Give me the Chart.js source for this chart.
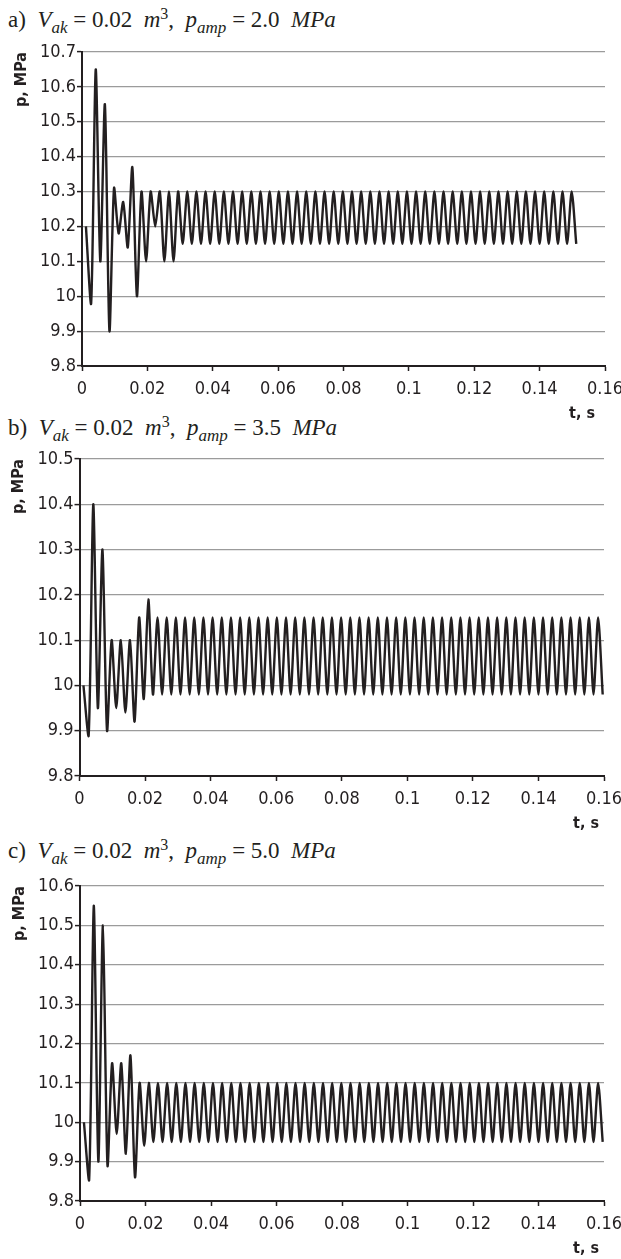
<!DOCTYPE html>
<html>
<head>
<meta charset="utf-8">
<script src="https://cdn.jsdelivr.net/npm/chart.js@4.4.1/dist/chart.umd.min.js"></script>
<style>
  html, body { margin:0; padding:0; background:#fff; width:621px; height:1259px; overflow:hidden; }
  .ttl { position:absolute; left:8px; font-family:'Liberation Serif','DejaVu Serif',serif; font-size:23px; line-height:23px; color:#231f20; white-space:nowrap; }
  .ttl i { font-style:italic; }
  .sb { position:relative; top:6px; font-size:17px; font-style:italic; }
  .sp { position:relative; top:-8px; font-size:16px; }
  canvas { position:absolute; left:0; }
</style>
</head>
<body>
<div class="ttl" style="top:8px">a)&nbsp; <i>V</i><span class="sb">ak</span> = 0.02&nbsp; <i>m</i><span class="sp">3</span>,&nbsp; <i>p</i><span class="sb">amp</span> = 2.0&nbsp; <i>MPa</i></div>
<div class="ttl" style="top:416px">b)&nbsp; <i>V</i><span class="sb">ak</span> = 0.02&nbsp; <i>m</i><span class="sp">3</span>,&nbsp; <i>p</i><span class="sb">amp</span> = 3.5&nbsp; <i>MPa</i></div>
<div class="ttl" style="top:839px">c)&nbsp; <i>V</i><span class="sb">ak</span> = 0.02&nbsp; <i>m</i><span class="sp">3</span>,&nbsp; <i>p</i><span class="sb">amp</span> = 5.0&nbsp; <i>MPa</i></div>
<canvas id="cA" width="660" height="390" style="top:37px"></canvas>
<canvas id="cB" width="660" height="393" style="top:444px"></canvas>
<canvas id="cC" width="660" height="391" style="top:871px"></canvas>
<script>
// time of each sample point (s)
const timeSteps = [
  0.0012,
  0.0028, 0.0042, 0.0056, 0.0070, 0.0084, 0.0098, 0.0112, 0.0126, 0.0140, 0.0154,
  0.0168, 0.0182, 0.0196, 0.0210, 0.0224, 0.0238, 0.0252, 0.0266, 0.0280, 0.0294,
  0.0308, 0.0322, 0.0336, 0.0350, 0.0364, 0.0378, 0.0392, 0.0406, 0.0420, 0.0434,
  0.0448, 0.0462, 0.0476, 0.0490, 0.0504, 0.0518, 0.0532, 0.0546, 0.0560, 0.0574,
  0.0588, 0.0602, 0.0616, 0.0630, 0.0644, 0.0658, 0.0672, 0.0686, 0.0700, 0.0714,
  0.0728, 0.0742, 0.0756, 0.0770, 0.0784, 0.0798, 0.0812, 0.0826, 0.0840, 0.0854,
  0.0868, 0.0882, 0.0896, 0.0910, 0.0924, 0.0938, 0.0952, 0.0966, 0.0980, 0.0994,
  0.1008, 0.1022, 0.1036, 0.1050, 0.1064, 0.1078, 0.1092, 0.1106, 0.1120, 0.1134,
  0.1148, 0.1162, 0.1176, 0.1190, 0.1204, 0.1218, 0.1232, 0.1246, 0.1260, 0.1274,
  0.1288, 0.1302, 0.1316, 0.1330, 0.1344, 0.1358, 0.1372, 0.1386, 0.1400, 0.1414,
  0.1428, 0.1442, 0.1456, 0.1470, 0.1484, 0.1498, 0.1512, 0.1526, 0.1540, 0.1554,
  0.1568, 0.1582, 0.1596
];

// a) p_amp = 2.0 MPa  (MPa)
const pressureA = [
  10.2,
  9.98, 10.65, 10.1, 10.55, 9.9, 10.31, 10.18, 10.27, 10.14, 10.37,
  10.0, 10.3, 10.1, 10.3, 10.2, 10.3, 10.1, 10.3, 10.1, 10.3,
  10.15, 10.3, 10.15, 10.3, 10.15, 10.3, 10.15, 10.3, 10.15, 10.3,
  10.15, 10.3, 10.15, 10.3, 10.15, 10.3, 10.15, 10.3, 10.15, 10.3,
  10.15, 10.3, 10.15, 10.3, 10.15, 10.3, 10.15, 10.3, 10.15, 10.3,
  10.15, 10.3, 10.15, 10.3, 10.15, 10.3, 10.15, 10.3, 10.15, 10.3,
  10.15, 10.3, 10.15, 10.3, 10.15, 10.3, 10.15, 10.3, 10.15, 10.3,
  10.15, 10.3, 10.15, 10.3, 10.15, 10.3, 10.15, 10.3, 10.15, 10.3,
  10.15, 10.3, 10.15, 10.3, 10.15, 10.3, 10.15, 10.3, 10.15, 10.3,
  10.15, 10.3, 10.15, 10.3, 10.15, 10.3, 10.15, 10.3, 10.15, 10.3,
  10.15, 10.3, 10.15, 10.3, 10.15, 10.3, 10.15
];

// b) p_amp = 3.5 MPa
const pressureB = [
  10.0,
  9.89, 10.4, 9.95, 10.3, 9.9, 10.1, 9.95, 10.1, 9.94, 10.1,
  9.92, 10.15, 9.97, 10.19, 9.98, 10.15, 9.98, 10.15, 9.98, 10.15,
  9.98, 10.15, 9.98, 10.15, 9.98, 10.15, 9.98, 10.15, 9.98, 10.15,
  9.98, 10.15, 9.98, 10.15, 9.98, 10.15, 9.98, 10.15, 9.98, 10.15,
  9.98, 10.15, 9.98, 10.15, 9.98, 10.15, 9.98, 10.15, 9.98, 10.15,
  9.98, 10.15, 9.98, 10.15, 9.98, 10.15, 9.98, 10.15, 9.98, 10.15,
  9.98, 10.15, 9.98, 10.15, 9.98, 10.15, 9.98, 10.15, 9.98, 10.15,
  9.98, 10.15, 9.98, 10.15, 9.98, 10.15, 9.98, 10.15, 9.98, 10.15,
  9.98, 10.15, 9.98, 10.15, 9.98, 10.15, 9.98, 10.15, 9.98, 10.15,
  9.98, 10.15, 9.98, 10.15, 9.98, 10.15, 9.98, 10.15, 9.98, 10.15,
  9.98, 10.15, 9.98, 10.15, 9.98, 10.15, 9.98, 10.15, 9.98, 10.15,
  9.98, 10.15, 9.98
];

// c) p_amp = 5.0 MPa
const pressureC = [
  10.0,
  9.855, 10.55, 9.9, 10.5, 9.89, 10.15, 9.97, 10.15, 9.92, 10.17,
  9.86, 10.1, 9.94, 10.1, 9.95, 10.1, 9.95, 10.1, 9.95, 10.1,
  9.95, 10.1, 9.95, 10.1, 9.95, 10.1, 9.95, 10.1, 9.95, 10.1,
  9.95, 10.1, 9.95, 10.1, 9.95, 10.1, 9.95, 10.1, 9.95, 10.1,
  9.95, 10.1, 9.95, 10.1, 9.95, 10.1, 9.95, 10.1, 9.95, 10.1,
  9.95, 10.1, 9.95, 10.1, 9.95, 10.1, 9.95, 10.1, 9.95, 10.1,
  9.95, 10.1, 9.95, 10.1, 9.95, 10.1, 9.95, 10.1, 9.95, 10.1,
  9.95, 10.1, 9.95, 10.1, 9.95, 10.1, 9.95, 10.1, 9.95, 10.1,
  9.95, 10.1, 9.95, 10.1, 9.95, 10.1, 9.95, 10.1, 9.95, 10.1,
  9.95, 10.1, 9.95, 10.1, 9.95, 10.1, 9.95, 10.1, 9.95, 10.1,
  9.95, 10.1, 9.95, 10.1, 9.95, 10.1, 9.95, 10.1, 9.95, 10.1,
  9.95, 10.1, 9.95
];

const xTickLabels = ['0', '0.02', '0.04', '0.06', '0.08', '0.1', '0.12', '0.14', '0.16'];
const yTickLabelsA = ['9.8', '9.9', '10', '10.1', '10.2', '10.3', '10.4', '10.5', '10.6', '10.7'];
const yTickLabelsB = ['9.8', '9.9', '10', '10.1', '10.2', '10.3', '10.4', '10.5'];
const yTickLabelsC = ['9.8', '9.9', '10', '10.1', '10.2', '10.3', '10.4', '10.5', '10.6'];
const yRangeA = [9.8, 10.7];
const yRangeB = [9.8, 10.5];
const yRangeC = [9.8, 10.6];
const xTitle = 't, s';
const yTitle = 'p, MPa';

const INK = '#231f20';
const tickFont = { family: "'Liberation Sans Narrow','DejaVu Sans Condensed',sans-serif", size: 18 };
const titleFont = { family: "'Liberation Sans Narrow','DejaVu Sans Condensed',sans-serif", size: 16, weight: 'bold' };

function makeChart(id, pressure, yRange, yLabels, opt) {
  const pts = pressure.map((p, i) => ({ x: timeSteps[i], y: p }));
  return new Chart(document.getElementById(id), {
    type: 'line',
    data: { datasets: [{ data: pts, borderColor: INK, borderWidth: 2.4, pointRadius: 0, tension: 0.25, fill: false }] },
    options: {
      responsive: false, animation: false, devicePixelRatio: 1,
      layout: { padding: { top: 15, right: 660 - opt.right, left: 0, bottom: 0 } },
      plugins: { legend: { display: false }, tooltip: { enabled: false } },
      scales: {
        x: {
          type: 'linear', min: 0, max: 0.16,
          afterFit: (s) => { s.height = 61; },
          ticks: { stepSize: 0.02, font: tickFont, color: INK, padding: 8, maxRotation: 0,
                   callback: (v, i) => xTickLabels[i] },
          grid: { drawOnChartArea: false, drawTicks: true, tickLength: 5, tickColor: INK, tickWidth: 1.5 },
          border: { display: true, color: INK, width: 2 },
          title: { display: true, text: xTitle + opt.xPad, align: 'end', font: titleFont, color: INK, padding: { top: 0, bottom: 4 } }
        },
        y: {
          min: yRange[0], max: yRange[1],
          afterFit: (s) => { s.width = opt.left; },
          ticks: { stepSize: 0.1, font: tickFont, color: INK, padding: 1, callback: (v, i) => yLabels[i] },
          grid: { color: '#9b9b9b', lineWidth: 1.2, drawTicks: true, tickLength: 5, tickColor: INK, tickWidth: 1.5 },
          border: { display: true, color: INK, width: 2 },
          title: { display: true, text: yTitle, align: 'end', font: titleFont, color: INK, padding: { top: opt.yTitlePad, bottom: 0 } }
        }
      }
    }
  });
}

makeChart('cA', pressureA, yRangeA, yTickLabelsA, { left: 82, right: 605, xPad: '\u00a0\u00a0', yTitlePad: 12 });
makeChart('cB', pressureB, yRangeB, yTickLabelsB, { left: 79.5, right: 604, xPad: '\u00a0', yTitlePad: 9 });
makeChart('cC', pressureC, yRangeC, yTickLabelsC, { left: 80, right: 604, xPad: '\u00a0', yTitlePad: 10 });
</script>
</body>
</html>
